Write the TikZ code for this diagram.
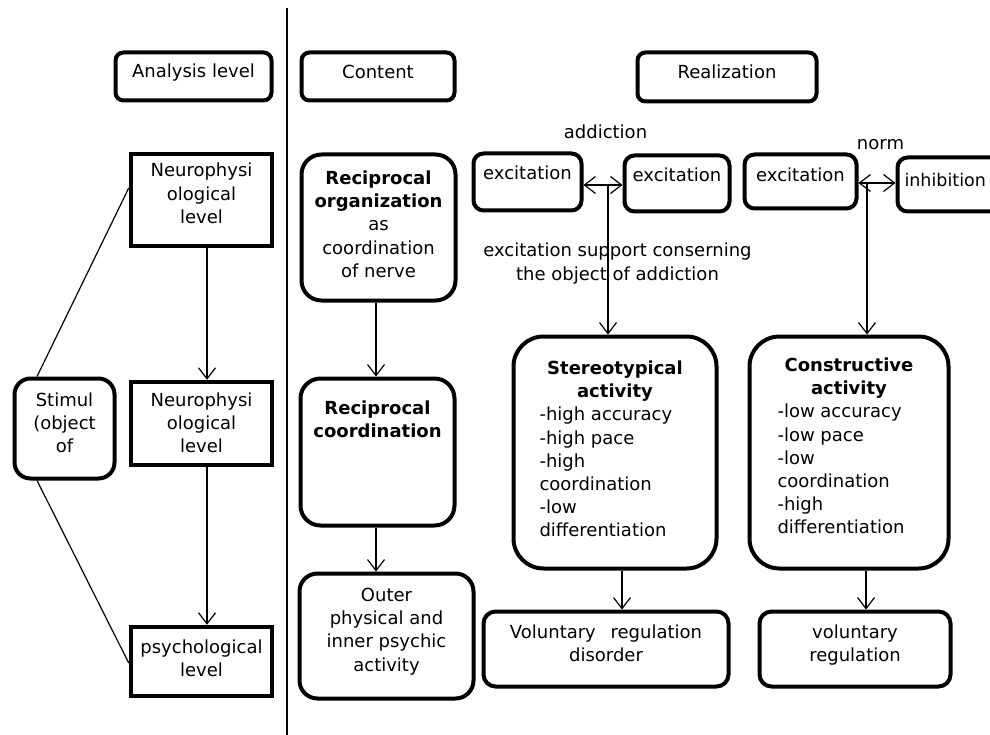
\documentclass[tikz,border=0pt]{standalone}
\usepackage{fontspec}
\setmainfont{DejaVu Sans}
\usetikzlibrary{arrows.meta}
\newcommand{\inbox}[4]{\parbox[c][#2pt][t]{#1pt}{\centering\rule{0pt}{#3pt}#4}}
\tikzset{
  fnt/.style={font=\fontsize{18}{23.2}\selectfont},
  rbox/.style={draw, line width=4pt, rounded corners=#1pt, inner sep=0pt, fnt},
  rbox/.default=8,
  sbox/.style={draw, line width=4.5pt, inner sep=0pt, fnt},
  arr/.style={-{Straight Barb[length=11pt,width=17pt]}, line width=1.2pt},
  darr/.style={{Straight Barb[length=11pt,width=17pt]}-{Straight Barb[length=11pt,width=17pt]}, line width=1.2pt},
  plain/.style={line width=1.2pt},
  lbl/.style={inner sep=0pt, anchor=base, fnt}
}
\begin{document}
\begin{tikzpicture}[x=1pt,y=-1pt]
\useasboundingbox (0,0) rectangle (990,735);
% divider
\draw[line width=1.5pt] (287,8) -- (287,735);
% headers
\node[rbox] (ana) at (193.5,76.5) {\inbox{156}{48}{25}{Analysis level}};
\node[rbox] (cont) at (378,76.5) {\inbox{153}{48}{26}{Content}};
\node[rbox] (real) at (727,77) {\inbox{179}{49}{26}{Realization}};
% analysis column
\node[sbox] (n1) at (201.5,200) {\inbox{141}{92}{23}{Neurophysi\\ological\\level}};
\node[sbox] (n2) at (201.5,423.5) {\inbox{141}{83}{24}{Neurophysi\\ological\\level}};
\node[sbox] (psy) at (201.5,661.5) {\inbox{141}{69}{26}{psychological\\level}};
\node[rbox=16] (stim) at (64.5,428.5) {\inbox{100}{100}{28}{Stimul\\(object\\of}};
% content column
\node[rbox=20] (ro) at (378.5,227.5) {\inbox{154}{146}{30}{\textbf{Reciprocal}\\\textbf{organization}\\as\\coordination\\of nerve}};
\node[rbox=20] (rc) at (377.5,452) {\inbox{154}{147}{36}{\textbf{Reciprocal}\\\textbf{coordination}}};
\node[rbox=18] (outer) at (386.5,636) {\inbox{174}{125}{28}{Outer\\physical and\\inner psychic\\activity}};
% realization column
\node[rbox=10] (e1) at (527.5,182) {\inbox{108}{57}{26}{excitation}};
\node[rbox=10] (e2) at (677,183.5) {\inbox{105}{56}{26}{excitation}};
\node[rbox=10] (e3) at (800.5,181.5) {\inbox{112}{54}{27}{excitation}};
\node[rbox=10] (inh) at (951,184.5) {\parbox[c][54pt][t]{107pt}{\fontsize{17.5}{22}\selectfont\rule{0pt}{29pt}\hspace*{7pt}inhibition}};
\node[rbox=30] (st) at (615,452.5) {\inbox{203}{232}{38}{\textbf{Stereotypical}\\\textbf{activity}\par\raggedright\leftskip=26pt -high accuracy\\-high pace\\-high\\coordination\\-low\\differentiation}};
\node[rbox=30] (co) at (849,452.5) {\inbox{199}{232}{35}{\textbf{Constructive}\\\textbf{activity}\par\raggedright\leftskip=28pt -low accuracy\\-low pace\\-low\\coordination\\-high\\differentiation}};
\node[rbox=12] (vd) at (606,649) {\inbox{245}{75}{27}{Voluntary\hspace{9pt} regulation\\disorder}};
\node[rbox=12] (vr) at (855,649) {\inbox{191}{75}{27}{voluntary\\regulation}};
% labels
\node[lbl] (ad) at (605.5,139) {addiction};
\node[lbl] (nm) at (880.5,150) {norm};
\node[lbl] (sup) at (617.5,257) {\parbox[t]{320pt}{\centering excitation support conserning\\the object of addiction}};
% connectors
\draw[arr] ([xshift=5.5pt]n1.south) -- ([xshift=5.5pt]n2.north);
\draw[arr] ([xshift=5.5pt]n2.south) -- ([xshift=5.5pt]psy.north);
\draw[plain] ([xshift=-27.5pt]stim.north) -- ([yshift=12pt]n1.west);
\draw[plain] ([xshift=-27.5pt]stim.south) -- ([yshift=-1.5pt]psy.west);
\draw[arr] ([xshift=-2.5pt]ro.south) -- ([xshift=-1.5pt]rc.north);
\draw[arr] ([xshift=-1.5pt]rc.south) -- ([xshift=-10.5pt]outer.north);
\coordinate (j1) at (608,185);
\draw[darr] (e1.east |- j1) -- (e2.west |- j1);
\draw[arr] (j1) -- (j1 |- st.north);
\coordinate (j2) at (867,183);
\draw[darr] (e3.east |- j2) -- (inh.west |- j2);
\draw[arr] (j2) -- (j2 |- co.north);
\draw[arr] ([xshift=7pt]st.south) -- ([xshift=16pt]vd.north);
\draw[arr] ([xshift=17pt]co.south) -- ([xshift=11pt]vr.north);
\end{tikzpicture}
\end{document}
